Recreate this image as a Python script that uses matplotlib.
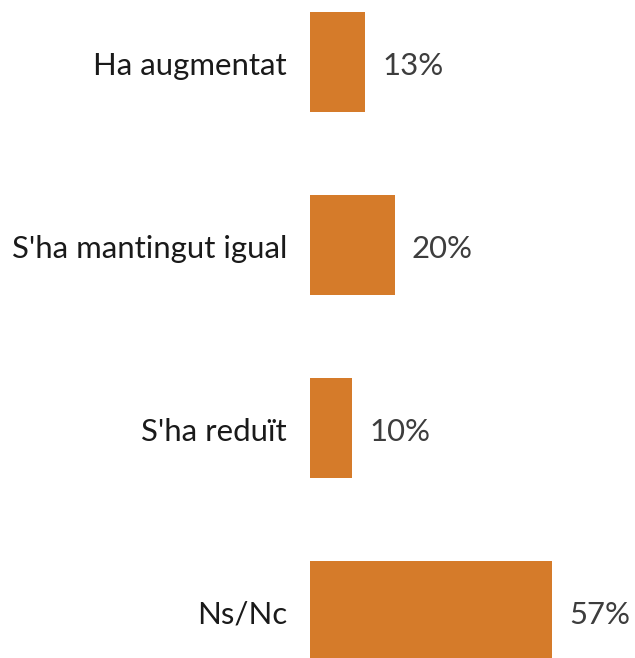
import matplotlib
matplotlib.use('Agg')
import matplotlib.pyplot as plt

categories = ['Ha augmentat', "S'ha mantingut igual", "S'ha reduït", 'Ns/Nc']
values = [13, 20, 10, 57]
value_labels = ['13%', '20%', '10%', '57%']

plt.rcParams['font.family'] = ['Lato', 'DejaVu Sans']

bar_color = '#D57B2A'

fig = plt.figure(figsize=(6.35, 6.58), dpi=100)
# axes covers the figure; data coords mapped so 1 % = ~4.25 px
ax = fig.add_axes([0, 0, 1, 1])
ax.set_xlim(-72.9, 76.5)
ax.set_ylim(3.257, -0.339)

ypos = list(range(len(categories)))
ax.barh(ypos, values, height=0.546, color=bar_color, left=0)

for y, cat, v, lab in zip(ypos, categories, values, value_labels):
    ax.text(-5.4, y + 0.02, cat, ha='right', va='center', fontsize=22.4,
            color='#1a1a1a')
    ax.text(v + 4.0, y + 0.02, lab, ha='left', va='center', fontsize=22.4,
            color='#3d3d3d')

ax.axis('off')
fig.savefig('out.png', dpi=100)
